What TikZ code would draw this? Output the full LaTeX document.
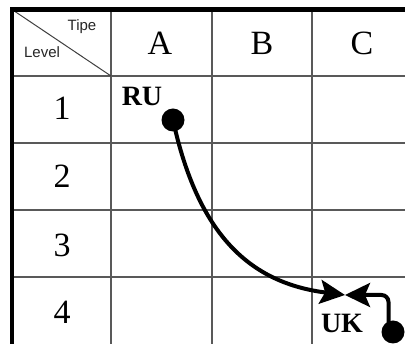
\documentclass[tikz,border=0pt]{standalone}
\usepackage{fontspec}
\newfontfamily\lsans{Liberation Sans}
\newfontfamily\lserif{Liberation Serif}
\usetikzlibrary{arrows.meta}
\tikzset{
  gridline/.style={draw=black!65, line width=1.4pt},
  border/.style={draw=black, line width=4.5pt},
  hdr/.style={font=\lserif\fontsize{34}{40}\selectfont, inner sep=0pt},
  small/.style={font=\lsans\fontsize{15}{18}\selectfont, inner sep=0pt, text=black!85},
  tag/.style={font=\lserif\bfseries\fontsize{28}{32}\selectfont, inner sep=0pt},
  dot/.style={circle, fill=black, inner sep=0pt, minimum size=23pt},
  conn/.style={draw=black, line width=4pt, -{Stealth[length=25pt, width=24pt, inset=5pt]}}
}
\begin{document}
\begin{tikzpicture}[x=1pt, y=-1pt]
\useasboundingbox (0,0) rectangle (405,344);
\fill[white] (0,0) rectangle (405,344);
% grid
\foreach \x in {111,212,312} \draw[gridline] (\x,9.5) -- (\x,344);
\foreach \y in {76,143,210,277} \draw[gridline] (12,\y) -- (405,\y);
\draw[draw=black!75, line width=1pt] (12,9.5) -- (111,76);
\draw[border] (12,344) -- (12,9.5) -- (405,9.5);
% header texts
\node[small] (tipe) at (82,26.5) {Tipe};
\node[small] (level) at (42,52.5) {Level};
\node[hdr] (colA) at (160,43) {A};
\node[hdr] (colB) at (262,43) {B};
\node[hdr] (colC) at (362,43) {C};
\node[hdr] (row1) at (62,108) {1};
\node[hdr] (row2) at (62,176) {2};
\node[hdr] (row3) at (62,245) {3};
\node[hdr] (row4) at (62,312) {4};
% tags
\node[tag] (ru) at (142,96) {RU};
\node[tag] (uk) at (342,323) {UK};
\node[dot] (rudot) at (173,120) {};
\node[dot] (ukdot) at (393,332) {};
\coordinate (meet) at (345,295);
\coordinate (ukstem) at (388.5,326);
% connectors
\draw[conn] (rudot.center) .. controls (198,235) and (250,283) .. (meet);
\draw[conn, rounded corners=7pt] (ukstem) |- (meet);
\end{tikzpicture}
\end{document}
